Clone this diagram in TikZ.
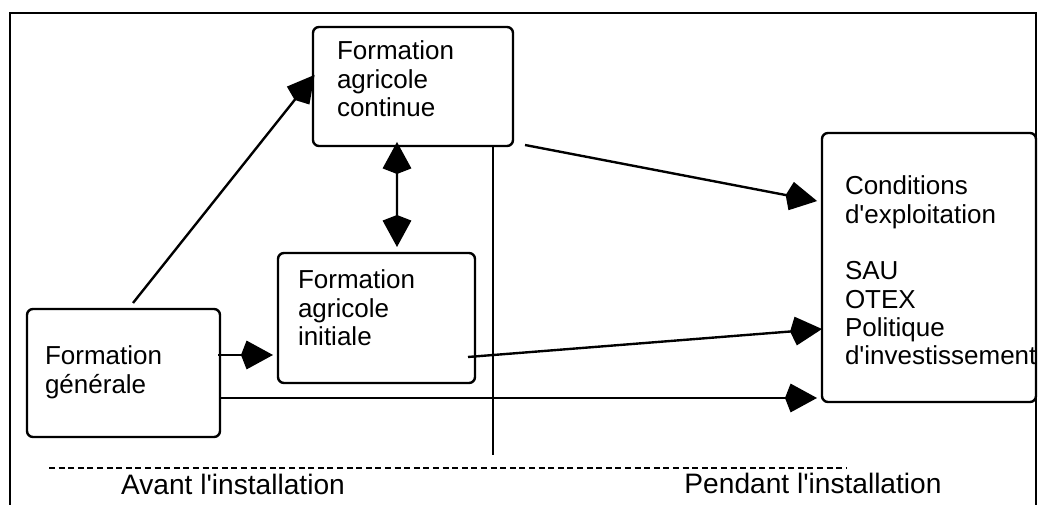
\documentclass[tikz,border=0pt]{standalone}
\usepackage{fontspec}
\setmainfont{Liberation Sans}
\usetikzlibrary{arrows.meta, positioning, calc}
\tikzset{
  box/.style={rectangle, rounded corners=0.15cm, draw=black, line width=1.7pt, outer sep=0pt, inner ysep=0pt, align=left, anchor=north west, font=\fontsize{18.5}{20.1}\selectfont},
  arrow/.style={line width=1.7pt, -{Kite[length=0.8cm, width=0.72cm, inset=0.14cm]}},
  dblarrow/.style={line width=1.7pt, {Kite[length=0.8cm, width=0.72cm, inset=0.14cm]}-{Kite[length=0.8cm, width=0.72cm, inset=0.14cm]}},
  separator/.style={line width=1.7pt},
  phaseline/.style={line width=1.2pt, dash pattern=on 0.15cm off 0.09cm},
  phase/.style={anchor=base, font=\fontsize{20}{22}\selectfont}
}

\begin{document}
\begin{tikzpicture}

  \useasboundingbox (0,0) rectangle (25.975,12.625);

  % Frame
  \draw[line width=1.7pt] (0.25,0) |- (25.9,12.3) -- (25.9,0);

  % Training boxes
  \node (cont) [box, inner xsep=0.6cm, text width=3.8cm, text height=0.825cm, text depth=2.15cm] at (7.825,11.95) {Formation\\agricole\\continue};
  \node (init) [box, inner xsep=0.5cm, text width=3.925cm, text height=0.9cm, text depth=2.35cm] at (6.95,6.3) {Formation\\agricole\\initiale};
  \node (gen) [box, inner xsep=0.45cm, text width=3.925cm, text height=1.4cm, text depth=1.8cm] at (0.675,4.9) {Formation\\g\'en\'erale};

  % Farm conditions
  \node (cond) [box, inner xsep=0.575cm, text width=4.2cm, text height=1.55cm, text depth=5.175cm] at (20.55,9.3) {Conditions\\d\textquotesingle exploitation\\[0.71cm]SAU\\OTEX\\Politique\\d\textquotesingle investissement};

  % Links between trainings
  \draw[arrow] ($(gen.north)+(0.2375,0.15)$) -- ($(cont.west)+(0.04,0.29)$);
  \draw[dblarrow] ($(cont.south)+(-0.4,0.1)$) -- ($(init.north)+(0.5125,0.15)$);
  \draw[arrow, shorten >=0.125cm] ($(gen.east)+(-0.05,0.45)$) coordinate (g1) -- (g1 -| init.west);

  % Links to farm conditions
  \draw[arrow, shorten >=0.125cm] ($(cont.south east)+(0.3,0.025)$) -- ($(cond.west)+(0,1.6375)$);
  \draw[arrow] ($(init.east)+(-0.175,-0.975)$) -- ($(cond.west)+(0,-1.5375)$);
  \draw[arrow, shorten >=0.125cm] ($(gen.east)+(0,-0.625)$) coordinate (g2) -- (g2 -| cond.west);

  % Before / during settling
  \coordinate (split) at (12.325,1.25);
  \draw[separator] (cont.south -| split) -- (split);
  \draw[phaseline] (1.225,0.925) -- (21.175,0.925);
  \node (avant) [phase] at (5.825,0.25) {Avant l\textquotesingle installation};
  \node (pendant) [phase] at (20.325,0.275) {Pendant l\textquotesingle installation};

\end{tikzpicture}
\end{document}
